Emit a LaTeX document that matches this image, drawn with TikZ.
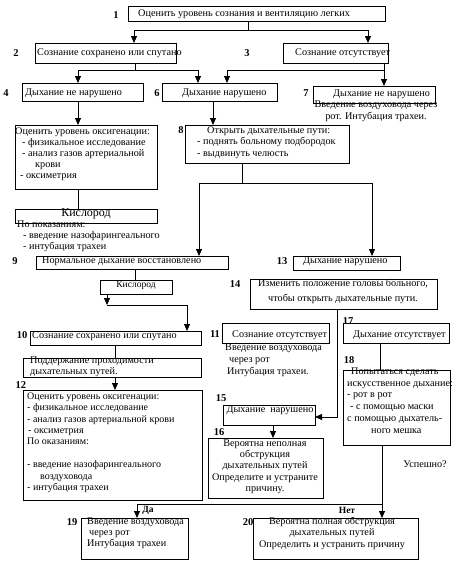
\documentclass[tikz,border=0pt]{standalone}
\usepackage{fontspec}
\setmainfont{Liberation Serif}
\usetikzlibrary{arrows.meta}
\newcommand{\bx}[5]{\node[box, minimum width={#4-#2}, minimum height={#5-#3}] (#1) at ({(#2+#4)/2},{(#3+#5)/2}) {};}
\begin{document}
\begin{tikzpicture}[x=1pt,y=-1pt,
  box/.style={draw, rectangle, inner sep=0pt, outer sep=0pt, line width=0.8pt},
  t/.style={inner sep=0pt, font=\fontsize{10.2}{11}\selectfont, anchor=west},
  ml/.style={inner sep=0pt, align=left, anchor=north west},
  mc/.style={inner sep=0pt, align=center, anchor=north},
  num/.style={inner sep=0pt, font=\fontsize{10.5}{12}\selectfont\bfseries},
  arr/.style={-{Triangle[length=7pt,width=6pt]}, line width=0.8pt},
  ln/.style={line width=0.8pt}]
\useasboundingbox (0,0) rectangle (474,579);
% boxes
\bx{b1}{128}{6}{385}{21}
\bx{b2}{35}{43}{176}{63}
\bx{b3}{283}{43}{388}{63}
\bx{b4}{22}{83}{143}{101}
\bx{b6}{162}{83}{277}{101}
\bx{b7}{313}{86}{435}{103}
\bx{oxy1}{15}{125}{157}{189}
\bx{b8}{185}{125}{349}{163}
\bx{kis1}{15}{209}{157}{223}
\bx{b9}{36}{256}{228}{269}
\bx{b13}{293}{256}{400}{270}
\bx{kis2}{100}{280}{172}{294}
\bx{b14}{250}{279}{437}{309}
\bx{b10}{30}{331}{201}{345}
\bx{b11}{222}{323}{329}{343}
\bx{b17}{343}{323}{449}{343}
\bx{pod}{23}{358}{201}{377}
\bx{b18}{343}{370}{450}{445}
\bx{b12}{23}{390}{202}{500}
\bx{b15}{223}{405}{315}{425}
\bx{b16}{208}{438}{323}{498}
\bx{b19}{81}{518}{188}{559}
\bx{b20}{253}{518}{418}{559}
% numbers
\node[num] (n1) at (116,15) {1};
\node[num] (n2) at (16,53) {2};
\node[num] (n3) at (247,53) {3};
\node[num] (n4) at (6,93) {4};
\node[num] (n6) at (157,93) {6};
\node[num] (n7) at (306,93) {7};
\node[num] (n8) at (181,130) {8};
\node[num] (n9) at (15,261) {9};
\node[num] (n13) at (282,261) {13};
\node[num] (n14) at (235,284) {14};
\node[num] (n10) at (22,335) {10};
\node[num] (n11) at (215,334) {11};
\node[num] (n17) at (348,321) {17};
\node[num] (n18) at (349,360) {18};
\node[num] (n12) at (21,385) {12};
\node[num] (n15) at (221,398) {15};
\node[num] (n16) at (219,432) {16};
\node[num] (n19) at (72,522) {19};
\node[num] (n20) at (248,522) {20};
% texts
\node[t] (t1) at (138,14) {Оценить уровень сознания и вентиляцию легких};
\node[t] (t2) at (37,53) {Сознание сохранено или спутано};
\node[t] (t3) at (295,53) {Сознание отсутствует};
\node[t] (t4) at (25,93) {Дыхание не нарушено};
\node[t] (t6) at (182,93) {Дыхание нарушено};
\node[t] (t7) at (333,94) {Дыхание не нарушено};
\node[mc, font=\fontsize{10.2}{12}\selectfont] (t7b) at (376,100.5) {Введение воздуховода через\\рот. Интубация трахеи.};
\node[ml, font=\fontsize{10.2}{10.9}\selectfont] (toxy1) at (15,127.5) {Оценить уровень оксигенации:\\
\hspace*{7pt}- физикальное исследование\\
\hspace*{7pt}- анализ газов артериальной\\
\hspace*{20pt}крови\\
\hspace*{5pt}- оксиметрия};
\node[ml, font=\fontsize{10.2}{11.5}\selectfont] (t8) at (197,126.5) {\hspace*{10pt}Открыть дыхательные пути:\\
- поднять больному подбородок\\
- выдвинуть челюсть};
\node[inner sep=0pt, font=\fontsize{12}{14}\selectfont] (tkis1) at (86,214) {Кислород};
\node[ml, font=\fontsize{10.2}{11}\selectfont] (tkis1b) at (17,220.5) {По показаниям:\\
\hspace*{6pt}- введение назофарингеального\\
\hspace*{6pt}- интубация трахеи};
\node[t] (t9) at (42,261) {Нормальное дыхание восстановлено};
\node[t] (t13) at (303,261) {Дыхание нарушено};
\node[inner sep=0pt, font=\fontsize{9.5}{11}\selectfont] (tkis2) at (136,285) {Кислород};
\node[mc, font=\fontsize{10.2}{15}\selectfont] (t14) at (343,278.5) {Изменить положение головы больного,\\чтобы открыть дыхательные пути.};
\node[t] (t10) at (32,336) {Сознание сохранено или спутано};
\node[t] (t11) at (232,335) {Сознание отсутствует};
\node[ml, font=\fontsize{10.2}{12}\selectfont] (t11b) at (225,343.5) {Введение воздуховода\\
\hspace*{4pt}через рот\\
\hspace*{2pt}Интубация трахеи.};
\node[t] (t17) at (353,335) {Дыхание отсутствует};
\node[ml, font=\fontsize{10.2}{11}\selectfont] (tpod) at (30,356.5) {Поддержание проходимости\\дыхательных путей.};
\node[ml, font=\fontsize{10.2}{11.8}\selectfont] (t18) at (347,367.5) {\hspace*{4pt}Попытаться сделать\\
искусственное дыхание:\\
- рот в рот\\
\hspace*{3pt}- с помощью маски\\
с помощью дыхатель-\\
\hspace*{24pt}ного мешка};
\node[ml, font=\fontsize{10}{11.4}\selectfont] (t12) at (27,392.5) {Оценить уровень оксигенации:\\
- физикальное исследование\\
- анализ газов артериальной крови\\
\hspace*{1pt}- оксиметрия\\
По оказаниям:\\
\mbox{}\\
- введение назофарингеального\\
\hspace*{13pt}воздуховода\\
- интубация трахеи};
\node[inner sep=0pt, font=\fontsize{10.2}{11}\selectfont] (t15) at (270,410) {Дыхание\ \ нарушено};
\node[mc, font=\fontsize{10.2}{11.25}\selectfont] (t16) at (265,439.5) {Вероятна неполная\\обструкция\\дыхательных путей\\Определите и устраните\\причину.};
\node[inner sep=0pt, font=\fontsize{10.2}{11}\selectfont] (tq) at (425,464) {Успешно?};
\node[inner sep=0pt, font=\fontsize{9.5}{11}\selectfont\bfseries] (tyes) at (148,510) {Да};
\node[inner sep=0pt, font=\fontsize{9.5}{11}\selectfont\bfseries] (tno) at (347,510) {Нет};
\node[ml, font=\fontsize{10.2}{11}\selectfont] (t19) at (87,517.5) {Введение воздуховода\\
\hspace*{2pt}через рот\\
Интубация трахеи};
\node[mc, font=\fontsize{10.2}{11.5}\selectfont] (t20) at (332,516.5) {Вероятна полная обструкция\\дыхательных путей\\Определить и устранить причину};
% junctions
\coordinate (j1) at (248,30);
\coordinate (j1a) at (134,30);
\coordinate (j1b) at (368,30);
\coordinate (j2) at (135,70);
\coordinate (j2a) at (78,70);
\coordinate (j2b) at (198,70);
\coordinate (j3) at (384,70);
\coordinate (j3a) at (227,70);
\coordinate (c5) at (213,112);
\coordinate (j6) at (242,183);
\coordinate (j6a) at (199,183);
\coordinate (j6b) at (372,183);
\coordinate (c7) at (135,275);
\coordinate (j8) at (107,305);
\coordinate (j8a) at (187,305);
\coordinate (j10) at (337,417);
\coordinate (c9) at (380,355);
\coordinate (c11) at (115,350);
\coordinate (c13) at (273,430);
\coordinate (j14) at (382,504);
\coordinate (j14a) at (137,504);
% connectors
\draw[ln] (b1.south -| j1) -- (j1);
\draw[arr] (j1) -- (j1a) -- (j1a |- b2.north);
\draw[arr] (j1) -- (j1b) -- (j1b |- b3.north);
\draw[ln] (b2.south -| j2) -- (j2);
\draw[arr] (j2) -- (j2a) -- (j2a |- b4.north);
\draw[arr] (j2) -- (j2b) -- (j2b |- b6.north);
\draw[arr] (b3.south -| j3) -- (j3 |- b7.north);
\draw[arr] (j3) -- (j3a) -- (j3a |- b6.north);
\draw[arr] (b4.south -| j2a) -- (j2a |- oxy1.north);
\draw[arr] (b6.south -| c5) -- (c5 |- b8.north);
\draw[ln] (oxy1.south -| j2a) -- (j2a |- kis1.north);
\draw[ln] (b8.south -| j6) -- (j6);
\draw[arr] (j6) -- (j6a) -- (j6a |- b9.north);
\draw[arr] (j6) -- (j6b) -- (j6b |- b13.north);
\draw[ln] (b9.south -| c7) -- (c7 |- kis2.north);
\draw[arr] (kis2.south -| j8) -- (j8);
\draw[arr] (j8) -- (j8a) -- (j8a |- b10.north);
\draw[arr] (b14.south -| j10) -- (j10) -- (j10 -| b15.east);
\draw[ln] (b17.south -| c9) -- (c9 |- b18.north);
\draw[ln] (b10.south -| c11) -- (c11 |- pod.north);
\draw[arr] (pod.south -| c11) -- (c11 |- b12.north);
\draw[arr] (b15.south -| c13) -- (c13 |- b16.north);
\draw[arr] (b18.south -| j14) -- (j14 |- b20.north);
\draw[arr] (j14) -- (j14a) -- (j14a |- b19.north);
\end{tikzpicture}
\end{document}
